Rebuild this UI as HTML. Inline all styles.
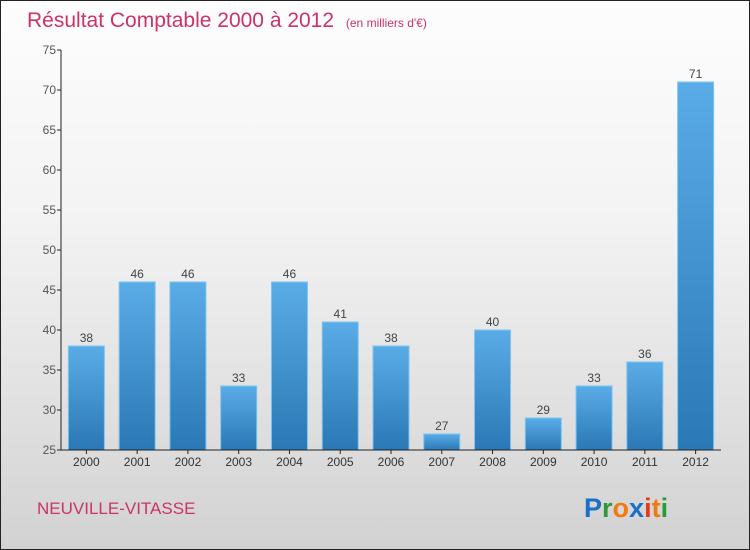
<!DOCTYPE html>
<html><head><meta charset="utf-8"><style>
body{margin:0}
#c{width:748px;height:548px;border:1px solid #222;background:linear-gradient(#fdfdfd,#f3f3f3 40%,#d2d2d2);position:relative;font-family:"Liberation Sans",sans-serif;overflow:hidden}
</style></head><body>
<div id="c">
<svg width="748" height="548" style="position:absolute;left:0;top:0">
<defs><linearGradient id="bg" x1="0" y1="0" x2="0" y2="1"><stop offset="0" stop-color="#5aace6"/><stop offset="1" stop-color="#2a78b5"/></linearGradient></defs>
<text x="26" y="26" font-size="21" fill="#cc3366">Résultat Comptable 2000 à 2012 <tspan font-size="12" dx="6">(en milliers d'€)</tspan></text>
<g id="grid"></g><g id="bars"></g><g id="axes"></g>
<text x="36" y="513" font-size="17" fill="#cc3366">NEUVILLE-VITASSE</text>
<g font-size="27" font-weight="bold" font-family="'Liberation Sans',sans-serif">
<text x="583" y="516"><tspan fill="#1a70c8">P</tspan><tspan fill="#2a9a3a">r</tspan><tspan fill="#f07a10">o</tspan><tspan fill="#1a70c8">x</tspan><tspan fill="#e53a1a">i</tspan><tspan fill="#f07a10">t</tspan><tspan fill="#2a9a3a">i</tspan></text></g>
</svg></div>
<script>
const years=["2000","2001","2002","2003","2004","2005","2006","2007","2008","2009","2010","2011","2012"];
const values=[38,46,46,33,46,41,38,27,40,29,33,36,71];
const yTicks=[25,30,35,40,45,50,55,60,65,70,75];
const NS="http://www.w3.org/2000/svg";
const X0=60,X1=720,Y0=449,Y1=49,vmin=25,vmax=75;
const y=v=>Y0-(v-vmin)/(vmax-vmin)*(Y0-Y1);
const step=(X1-X0)/years.length;
const x=i=>X0+step*(i+0.5);
function mk(t,a,p){const e=document.createElementNS(NS,t);for(const k in a)e.setAttribute(k,a[k]);p.appendChild(e);return e;}
const G=document.getElementById('grid'),B=document.getElementById('bars'),A=document.getElementById('axes');
yTicks.forEach(v=>{
 mk('line',{x1:X0-4,x2:X0,y1:y(v),y2:y(v),stroke:'#222'},A);
 const t=mk('text',{x:X0-5,y:y(v)+4,'font-size':12,fill:'#555','text-anchor':'end'},A);t.textContent=v;
 
 
});
values.forEach((v,i)=>{
 const r=mk('rect',{x:x(i)-18,y:y(v),width:36,height:Y0-y(v),fill:'url(#bg)',stroke:'#7cc4f2','stroke-width':1},B);
 
 
 const t=mk('text',{x:x(i),y:y(v)-4,'font-size':12,fill:'#444','text-anchor':'middle'},B);t.textContent=v;
 
 
 mk('line',{x1:x(i),x2:x(i),y1:Y0,y2:Y0+4,stroke:'#222'},A);
 const l=mk('text',{x:x(i),y:Y0+16,'font-size':12,fill:'#333','text-anchor':'middle'},A);l.textContent=years[i];
 
 
});
const ya=mk('line',{x1:X0,x2:X0,y1:Y1,y2:Y0,stroke:'#222'},A);


const xa=mk('line',{x1:X0,x2:X1,y1:Y0,y2:Y0,stroke:'#222'},A);


</script>
</body></html>
